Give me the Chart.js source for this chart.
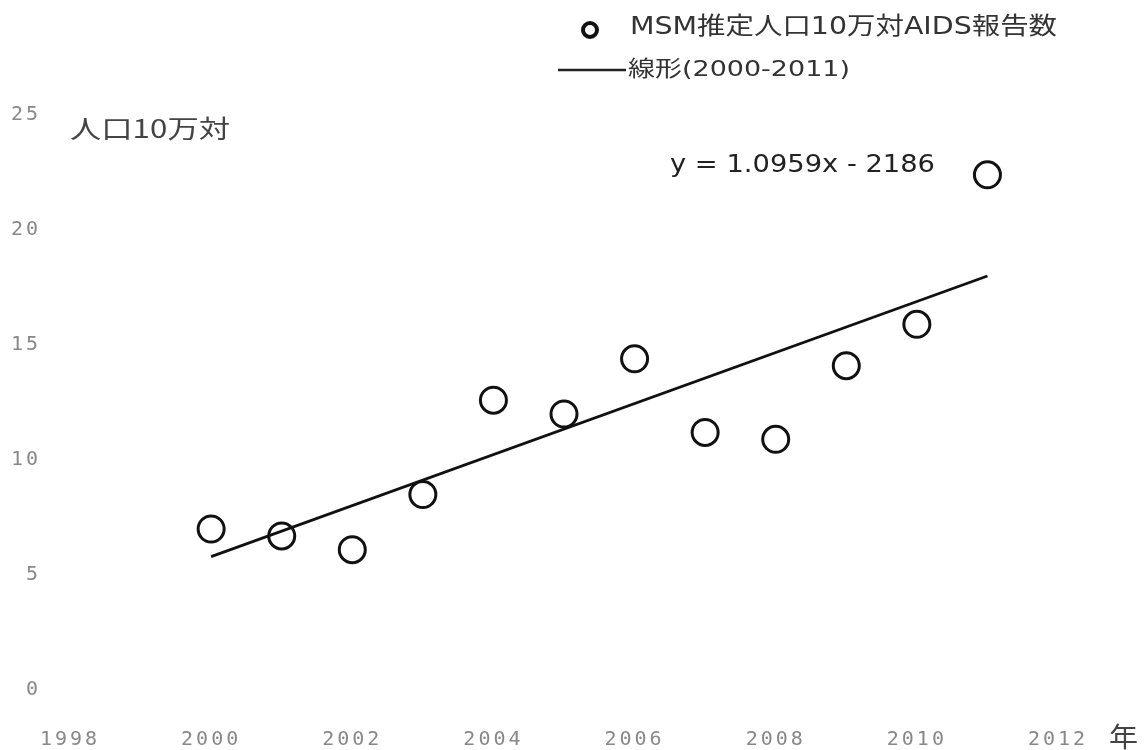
<!DOCTYPE html>
<html><head><meta charset="utf-8">
<script src="https://cdn.jsdelivr.net/npm/chart.js@4.4.1/dist/chart.umd.min.js"></script>
<style>html,body{margin:0;padding:0;background:#fff;}#wrap{width:1147px;height:750px;}</style>
</head><body><div id="wrap"><canvas id="c" width="1147" height="750"></canvas></div>
<script>
const years = [2000,2001,2002,2003,2004,2005,2006,2007,2008,2009,2010,2011];
const rates = [7.0,6.7,6.1,8.5,12.6,12.0,14.4,11.2,10.9,14.1,15.9,22.4];
const trendYears = [2000,2011];
const trendValues = [5.8,18.0];
const xTicks = [1998,2000,2002,2004,2006,2008,2010,2012];
const yTicks = [0,5,10,15,20,25];
const seriesLabel = 'MSM推定人口10万対AIDS報告数';
const trendLabel = '線形(2000-2011)';
const equation = 'y = 1.0959x - 2186';
const yTitle = '人口10万対';
const xTitle = '年';

const txtFont = '"DejaVu Sans", "Noto Sans CJK JP", sans-serif';
const cjkFont = '"Noto Sans CJK JP", "DejaVu Sans", sans-serif';

function fitText(ctx, text, x, y, width, font, color){
  ctx.save();
  ctx.font = font;
  ctx.fillStyle = color;
  ctx.textAlign = 'left';
  ctx.textBaseline = 'middle';
  const w = ctx.measureText(text).width;
  const sx = width / w;
  ctx.translate(x, y);
  ctx.scale(sx, 1);
  ctx.fillText(text, 0, 0);
  ctx.restore();
}

const overlay = {
  id:'overlay',
  beforeDraw(chart){ chart.ctx.letterSpacing = '3px'; },
  afterDraw(chart){
    const ctx = chart.ctx;
    ctx.letterSpacing = '0px';
    ctx.save();
    // legend
    ctx.beginPath();
    ctx.lineWidth=4; ctx.strokeStyle='#111';
    ctx.arc(590,30,7,0,Math.PI*2); ctx.stroke();
    fitText(ctx, seriesLabel, 630, 28, 427, '24px '+txtFont, '#333');
    ctx.beginPath();
    ctx.lineWidth=2.5; ctx.strokeStyle='#222';
    ctx.moveTo(558,70); ctx.lineTo(626,70); ctx.stroke();
    fitText(ctx, trendLabel, 628, 70, 222, '22px '+txtFont, '#333');
    // y title
    fitText(ctx, yTitle, 70, 128, 160, '25px '+cjkFont, '#444');
    // equation
    fitText(ctx, equation, 670, 166, 265, '24px '+txtFont, '#222');
    // x title
    fitText(ctx, xTitle, 1109, 737, 29, '27px '+cjkFont, '#444');
    ctx.restore();
  }
};

new Chart(document.getElementById('c'), {
  type:'scatter',
  data:{
    datasets:[
      {label:seriesLabel, data:years.map((x,i)=>({x, y:rates[i]})),
       pointRadius:13, pointHoverRadius:13, pointBorderWidth:3,
       pointBorderColor:'#111', pointBackgroundColor:'rgba(255,255,255,0)', showLine:false},
      {label:trendLabel, data:trendYears.map((x,i)=>({x, y:trendValues[i]})),
       showLine:true, borderColor:'#111', borderWidth:2.8, pointRadius:0, fill:false}
    ]
  },
  options:{
    responsive:false, animation:false,
    layout:{padding:{left:0, right:89, top:115, bottom:0}},
    plugins:{legend:{display:false}, tooltip:{enabled:false}},
    scales:{
      x:{type:'linear', min:1998, max:2012,
        afterBuildTicks(s){ s.ticks = xTicks.map(v=>({value:v})); },
        afterFit(s){ s.height = 60; },
        grid:{display:false, drawTicks:false}, border:{display:false},
        ticks:{padding:38, color:'#888', callback:v=>String(v),
          font:{family:'"DejaVu Sans Mono", monospace', size:20}, maxRotation:0, autoSkip:false}
      },
      y:{type:'linear', min:0, max:25,
        afterBuildTicks(s){ s.ticks = yTicks.map(v=>({value:v})); },
        afterFit(s){ s.width = 70; },
        grid:{display:false, drawTicks:false}, border:{display:false},
        ticks:{padding:29, color:'#888', callback:v=>String(v),
          font:{family:'"DejaVu Sans Mono", monospace', size:20}}
      }
    }
  },
  plugins:[overlay]
});
</script></body></html>
